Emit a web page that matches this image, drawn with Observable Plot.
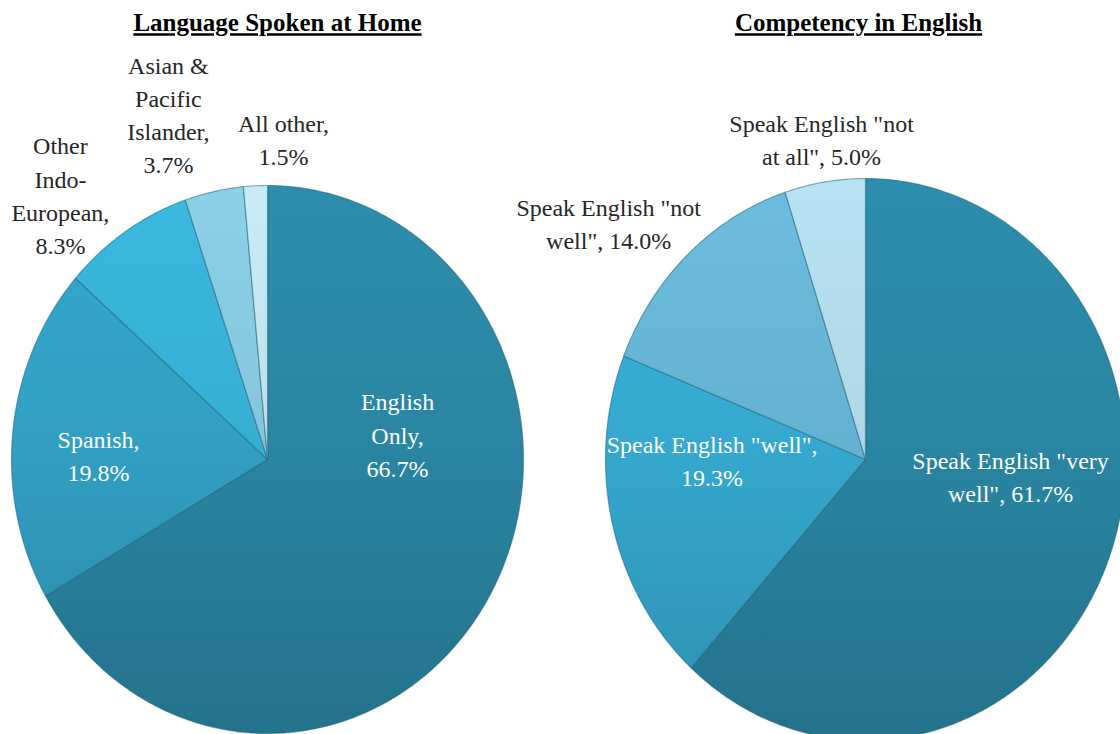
<!DOCTYPE html>
<html>
<head>
<meta charset="utf-8">
<script src="https://cdn.jsdelivr.net/npm/d3@7"></script>
<script src="https://cdn.jsdelivr.net/npm/@observablehq/plot@0.6"></script>
<style>
  html, body { margin: 0; padding: 0; background: #fff; overflow: hidden; }
  #wrap { display: flex; width: 1120px; height: 734px; }
  #wrap svg { display: block; overflow: visible; }
  #wrap svg text, #wrap svg tspan { font-family: "Liberation Serif", "DejaVu Serif", serif !important; }
</style>
</head>
<body>
<div id="wrap"></div>
<script>
// ---------- data ----------
const leftTitle = "Language Spoken at Home";
const leftSlices = ["English Only", "Spanish", "Other Indo-European", "Asian & Pacific Islander", "All other"];
const leftValues = [66.7, 19.8, 8.3, 3.7, 1.5];
const leftLabels = ["English\nOnly,\n66.7%", "Spanish,\n19.8%", "Other\nIndo-\nEuropean,\n8.3%", "Asian &\nPacific\nIslander,\n3.7%", "All other,\n1.5%"];

const rightTitle = "Competency in English";
const rightSlices = ["Very well", "Well", "Not well", "Not at all"];
const rightValues = [61.7, 19.3, 14.0, 5.0];
const rightLabels = ['Speak English "very\nwell", 61.7%', 'Speak English "well",\n19.3%', 'Speak English "not\nwell", 14.0%', 'Speak English "not\nat all", 5.0%'];

// ---------- styling / layout (kept apart from the data) ----------
const leftColors = ["#2a86a3", "#31a0c4", "#37afd5", "#84c6dd", "#bfe0ec"];
const rightColors = ["#2a86a3", "#35a9d0", "#65b3d2", "#aed7e7"];
const leftText = ["#fff", "#fff", "#262626", "#262626", "#262626"];
const rightText = ["#fff", "#fff", "#262626", "#262626"];
// label anchors in pie units (radius = 1)
const leftLabelAt = [[0.508, 0.086], [-0.660, 0.009], [-0.809, 0.960], [-0.387, 1.254], [0.0625, 1.162]];
const rightLabelAt = [[0.558, -0.066], [-0.590, -0.007], [-0.988, 0.836], [-0.169, 1.133]];

const font = "'Liberation Serif', 'DejaVu Serif', serif";

function piePoints(names, values) {
  const arcs = d3.pie().sort(null).value(d => d)(values);
  const pts = [];
  arcs.forEach((a, i) => {
    pts.push({slice: names[i], x: 0, y: 0});
    const n = Math.max(2, Math.ceil((a.endAngle - a.startAngle) / (Math.PI / 360)));
    for (let k = 0; k <= n; k++) {
      const t = a.startAngle + (a.endAngle - a.startAngle) * k / n;
      pts.push({slice: names[i], x: Math.sin(t), y: Math.cos(t)});
    }
  });
  return pts;
}

function makePie({id, title, names, values, labels, textColors, labelAt, xDomain, yDomain, titleDx}) {
  const pts = piePoints(names, values);
  const labelData = names.map((n, i) => ({slice: n, text: labels[i], x: labelAt[i][0], y: labelAt[i][1], color: textColors[i]}));
  return Plot.plot({
    width: 560, height: 734, margin: 0,
    style: {fontFamily: font, background: "transparent", overflow: "visible"},
    x: {domain: xDomain, axis: null},
    y: {domain: yDomain, axis: null},
    color: {domain: names, range: names.map((n, i) => `url(#${id}${i})`)},
    marks: [
      Plot.line(pts, {x: "x", y: "y", z: "slice", fill: "slice", stroke: "#1c5f74", strokeOpacity: 0.5, strokeWidth: 1.2, curve: "linear-closed", clip: "frame"}),
      Plot.text(labelData, {x: "x", y: "y", text: "text", fill: "color", fontSize: 24, fontWeight: 400, lineHeight: 1.38, lineAnchor: "middle", textAnchor: "middle", dy: -3, fontFamily: font}),
      Plot.text([title], {frameAnchor: "top", dx: titleDx, dy: 13, lineAnchor: "top", fontSize: 25, fontWeight: "bold", fill: "#000", fontFamily: font})
    ]
  });
}

const left = makePie({
  id: "gl", title: leftTitle, names: leftSlices, values: leftValues, labels: leftLabels,
  textColors: leftText, labelAt: leftLabelAt,
  xDomain: [-267 / 256, (560 - 267) / 256], yDomain: [(459 - 734) / 274, 459 / 274], titleDx: -3
});
const right = makePie({
  id: "gr", title: rightTitle, names: rightSlices, values: rightValues, labels: rightLabels,
  textColors: rightText, labelAt: rightLabelAt,
  xDomain: [-305 / 260, (560 - 305) / 260], yDomain: [(459 - 734) / 281, 459 / 281], titleDx: 18
});

function addGradients(svg, id, colors) {
  const y = svg.scale("y");
  const top = y.apply(1), bottom = y.apply(-1);
  const defs = d3.select(svg).insert("defs", ":first-child");
  colors.forEach((c, i) => {
    const g = defs.append("linearGradient").attr("id", id + i)
      .attr("gradientUnits", "userSpaceOnUse")
      .attr("x1", 0).attr("x2", 0).attr("y1", top).attr("y2", bottom);
    g.append("stop").attr("offset", "0%").attr("stop-color", d3.color(c).brighter(0.15).formatHex());
    g.append("stop").attr("offset", "45%").attr("stop-color", c);
    g.append("stop").attr("offset", "100%").attr("stop-color", d3.color(c).darker(0.45).formatHex());
  });
  d3.select(svg).selectAll("text").filter(function () { return this.textContent === leftTitle || this.textContent === rightTitle; })
    .style("text-decoration", "underline");
}
addGradients(left, "gl", leftColors);
addGradients(right, "gr", rightColors);

document.getElementById("wrap").append(left, right);
</script>
</body>
</html>
